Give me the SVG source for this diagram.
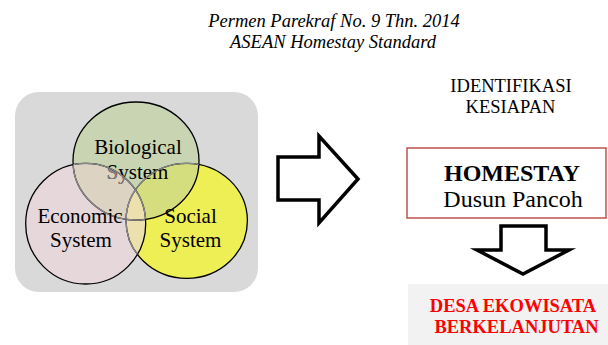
<svg xmlns="http://www.w3.org/2000/svg" width="608" height="345" viewBox="0 0 608 345">
<style>
text{font-family:'Liberation Serif',serif;fill:#000}
.it{font-style:italic;font-size:18.5px}
.cl{font-size:21px}
.lbl{font-size:18.5px}
.big{font-size:24px}
.red{font-size:18.5px;font-weight:bold;fill:#ff0000}
.ol{fill:none;stroke:#000;stroke-width:1.3}
.og{fill:none;stroke:#8a8a8a;stroke-width:1.3}
.arr{fill:#fff;stroke:#000;stroke-width:3.5;stroke-linejoin:miter;stroke-miterlimit:10}
</style>
<defs>
<ellipse id="eBio" cx="136" cy="161" rx="63" ry="59"/>
<ellipse id="eEco" cx="85.7" cy="223.7" rx="60" ry="60.3"/>
<ellipse id="eSoc" cx="186.7" cy="220.8" rx="60.7" ry="57.5"/>
<clipPath id="cBio"><use href="#eBio"/></clipPath>
<clipPath id="cEco"><use href="#eEco"/></clipPath>
<clipPath id="cSoc"><use href="#eSoc"/></clipPath>
</defs>
<rect width="608" height="345" fill="#fff"/>
<g id="title" font-family="Liberation Serif">
<text class="it" x="334" y="26.5" text-anchor="middle">Permen Parekraf No. 9 Thn. 2014</text>
<text class="it" x="333" y="47.5" text-anchor="middle">ASEAN Homestay Standard</text>
</g>
<g id="venn-background">
<rect x="15" y="92" width="243" height="200" rx="24" fill="#d9d9d9"/>
<use href="#eEco" fill="#e6d7db"/>
<use href="#eSoc" fill="#eeef55"/>
<use href="#eBio" fill="#c8d4b2"/>
<g clip-path="url(#cEco)"><use href="#eBio" fill="#dcd3c3"/></g>
<g clip-path="url(#cSoc)"><use href="#eBio" fill="#d4de7e"/></g>
<g clip-path="url(#cEco)"><use href="#eSoc" fill="#ebe0ae"/></g>
</g>
<g id="biological" font-family="Liberation Serif">
<use href="#eBio" class="ol"/>
<g clip-path="url(#cEco)"><use href="#eBio" class="og"/></g>
<text class="cl" x="138" y="154" text-anchor="middle">Biological</text>
<text class="cl" x="137.5" y="179" text-anchor="middle">System</text>
<g clip-path="url(#cEco)"><text class="cl" x="137.5" y="179" text-anchor="middle" style="fill:#8a8585">System</text></g>
</g>
<g id="economic" font-family="Liberation Serif">
<use href="#eEco" class="ol"/>
<g clip-path="url(#cBio)"><use href="#eEco" class="og"/></g>
<text class="cl" x="80" y="223" text-anchor="middle">Economic</text>
<text class="cl" x="81" y="247" text-anchor="middle">System</text>
</g>
<g id="social" font-family="Liberation Serif">
<use href="#eSoc" class="ol"/>
<g clip-path="url(#cBio)"><use href="#eSoc" class="og"/></g>
<g clip-path="url(#cEco)"><use href="#eSoc" class="og"/></g>
<text class="cl" x="190.5" y="223" text-anchor="middle">Social</text>
<text class="cl" x="190.5" y="247" text-anchor="middle">System</text>
</g>
<g id="identifikasi" font-family="Liberation Serif">
<text class="lbl" x="511" y="92" text-anchor="middle">IDENTIFIKASI</text>
<text class="lbl" x="510.5" y="113" text-anchor="middle">KESIAPAN</text>
</g>
<g id="homestay" font-family="Liberation Serif">
<rect x="407" y="148" width="199" height="70" fill="#fff" stroke="#c0504d" stroke-width="1.5"/>
<text class="big" x="512" y="181" text-anchor="middle" font-weight="bold">HOMESTAY</text>
<text class="big" x="513" y="207" text-anchor="middle">Dusun Pancoh</text>
</g>
<g id="desa-ekowisata" font-family="Liberation Serif">
<rect x="408" y="284" width="200" height="61" fill="#f2f2f2"/>
<text class="red" x="513" y="312" text-anchor="middle">DESA EKOWISATA</text>
<text class="red" x="516.5" y="333" text-anchor="middle">BERKELANJUTAN</text>
</g>
<g id="connectors">
<polygon class="arr" points="278,157 319,157 319,136 358,179 319,223 319,200 278,200"/>
<polygon class="arr" points="501,226 546,226 546,250 569,250 523,274 477,250 501,250"/>
</g>
</svg>
